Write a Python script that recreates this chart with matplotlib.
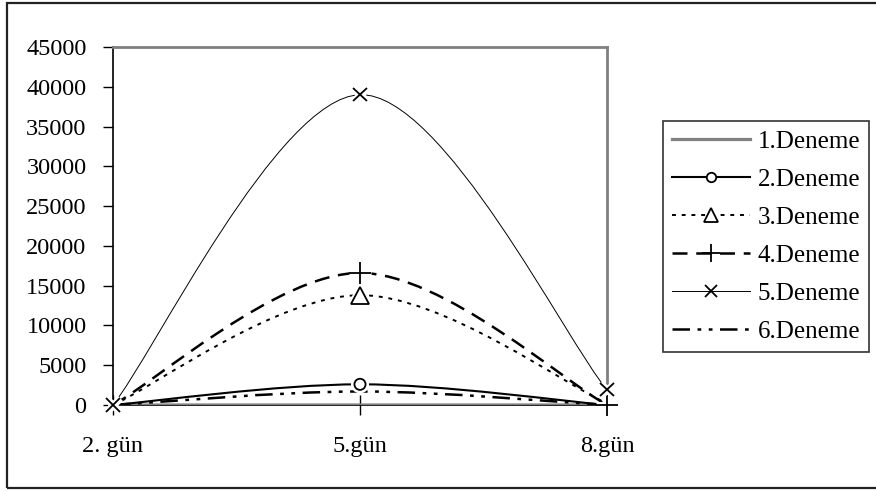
import matplotlib
matplotlib.use("Agg")
import matplotlib.pyplot as plt
from matplotlib.path import Path
from matplotlib.patches import PathPatch, Rectangle
from matplotlib.lines import Line2D
import matplotlib.patheffects as pe

plt.rcParams['font.family'] = ['Liberation Serif', 'DejaVu Serif']

categories = ['2. gün', '5.gün', '8.gün']
series_names = ['1.Deneme', '2.Deneme', '3.Deneme', '4.Deneme', '5.Deneme', '6.Deneme']
deneme1 = [0, 0, 0]
deneme2 = [0, 2600, 0]
deneme3 = [0, 13800, 200]
deneme4 = [0, 16600, 0]
deneme5 = [0, 39000, 1900]
deneme6 = [0, 1700, 0]
values = [deneme1, deneme2, deneme3, deneme4, deneme5, deneme6]
yticks = [0, 5000, 10000, 15000, 20000, 25000, 30000, 35000, 40000, 45000]

styles = [
    dict(color='#808080', lw=2.3, ls='-', marker=None, ms=0, mevery=[]),
    dict(color='black', lw=1.5, ls='-', marker='o', ms=8, mevery=[1]),
    dict(color='black', lw=1.4, ls=(0, (2, 3)), marker='^', ms=12.5, mevery=[1]),
    dict(color='black', lw=1.8, ls=(0, (6, 3.5)), marker='+', ms=16, mevery=[1, 2]),
    dict(color='black', lw=0.7, ls='-', marker='x', ms=9.5, mevery=[0, 1, 2]),
    dict(color='black', lw=1.8, ls=(0, (7, 3, 1.5, 3, 1.5, 3)), marker=None, ms=0, mevery=[]),
]

fig = plt.figure(figsize=(8.76, 4.91), dpi=100)
W, H = 876, 491
ax = fig.add_axes([113 / W, 1 - 405 / H, (607 - 113) / W, (405 - 47) / H])

# outer chart border
fig.patches.append(Rectangle((7 / W, 1 - 488 / H), 1.2, (488 - 3) / H,
                             transform=fig.transFigure, fill=False,
                             edgecolor='#222222', lw=1.6, zorder=0))

xs = list(range(len(categories)))


def smooth_path(x, y):
    n = len(x)
    verts = [(x[0], y[0])]
    codes = [Path.MOVETO]
    for i in range(n - 1):
        p0 = (x[i - 1], y[i - 1]) if i > 0 else (x[i], y[i])
        p1 = (x[i], y[i])
        p2 = (x[i + 1], y[i + 1])
        p3 = (x[i + 2], y[i + 2]) if i + 2 < n else (x[i + 1], y[i + 1])
        c1 = (p1[0] + (p2[0] - p0[0]) / 6, p1[1] + (p2[1] - p0[1]) / 6)
        c2 = (p2[0] - (p3[0] - p1[0]) / 6, p2[1] - (p3[1] - p1[1]) / 6)
        verts += [c1, c2, p2]
        codes += [Path.CURVE4] * 3
    return Path(verts, codes)


handles = []
for name, vals, st in zip(series_names, values, styles):
    patch = PathPatch(smooth_path(xs, vals), fill=False, edgecolor=st['color'],
                      lw=st['lw'], linestyle=st['ls'], zorder=3,
                      capstyle='butt', joinstyle='round')
    ax.add_patch(patch)
    if st['marker']:
        mx = [xs[i] for i in st['mevery']]
        my = [vals[i] for i in st['mevery']]
        ax.plot(mx, my, ls='none', marker=st['marker'], ms=st['ms'],
                mfc='white', mec='black', mew=1.3, zorder=5, clip_on=False,
                path_effects=[pe.withStroke(linewidth=5, foreground='white')])
    handles.append(Line2D([], [], color=st['color'], lw=st['lw'], ls=st['ls'],
                          marker=st['marker'], ms=st['ms'] * 0.85, mfc='white',
                          mec='black', mew=1.3, markevery=[1] if st['marker'] else None))

ax.set_xlim(0, 2)
ax.set_ylim(0, 45000)
ax.set_yticks(yticks)
ax.set_yticklabels([str(t) for t in yticks])
ax.set_xticks(xs)
ax.set_xticklabels(categories)
ax.tick_params(axis='y', direction='out', length=7, width=1, pad=12, labelsize=17.5)
ax.tick_params(axis='x', direction='inout', length=14, width=1, pad=15, labelsize=17.5)

for s in ['top', 'right']:
    ax.spines[s].set_color('#808080')
    ax.spines[s].set_linewidth(2)
ax.spines['left'].set_color('black')
ax.spines['left'].set_linewidth(1.2)
ax.spines['bottom'].set_color('black')
ax.spines['bottom'].set_linewidth(1.2)

leg = fig.legend(handles, series_names, loc='upper left',
                 bbox_to_anchor=(663 / W, 1 - 121 / H), bbox_transform=fig.transFigure,
                 fontsize=18, handlelength=3.12, handletextpad=0.3, labelspacing=0.62,
                 borderpad=0.36, borderaxespad=0, frameon=True, fancybox=False)
leg.get_frame().set_edgecolor('black')
leg.get_frame().set_linewidth(1.2)

fig.savefig('out.png', dpi=100)
